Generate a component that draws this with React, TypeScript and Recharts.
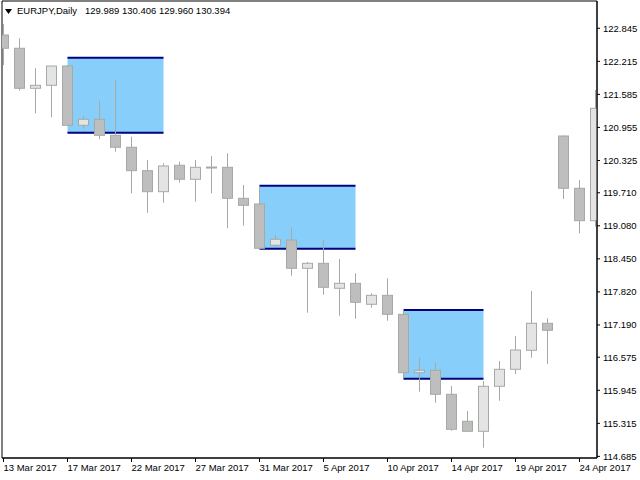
import React from 'react';
import { ComposedChart, Bar, XAxis, YAxis, ReferenceArea } from 'recharts';

// daily bars, Sunday sessions included (MT4 feed)
const dates = [
    '13 Mar', '14 Mar', '15 Mar', '16 Mar', '17 Mar', '19 Mar', '20 Mar', '21 Mar', '22 Mar', '23 Mar',
    '24 Mar', '26 Mar', '27 Mar', '28 Mar', '29 Mar', '30 Mar', '31 Mar', '2 Apr', '3 Apr', '4 Apr',
    '5 Apr', '6 Apr', '7 Apr', '9 Apr', '10 Apr', '11 Apr', '12 Apr', '13 Apr', '14 Apr', '16 Apr',
    '17 Apr', '18 Apr', '19 Apr', '20 Apr', '21 Apr', '23 Apr', '24 Apr', '25 Apr',
];

const opens = [
    122.717, 122.464, 121.701, 121.758, 122.126, 120.996, 121.110, 120.805, 120.577, 120.131,
    119.730, 120.234, 119.967, 120.190, 120.195, 119.604, 119.496, 118.709, 118.810, 118.270,
    118.365, 117.889, 117.984, 117.584, 117.755, 117.393, 116.280, 116.326, 115.868, 115.354,
    115.163, 116.021, 116.345, 116.707, 117.222, 120.792, 119.795, 119.177,
];
const highs = [
    122.930, 122.654, 122.083, 122.126, 122.140, 121.173, 121.465, 121.859, 120.779, 120.335,
    120.272, 120.302, 120.335, 120.411, 120.462, 119.858, 119.826, 118.905, 119.052, 118.390,
    118.810, 118.447, 118.175, 117.794, 118.079, 117.475, 116.566, 116.471, 116.027, 115.550,
    116.122, 116.503, 116.980, 117.837, 117.317, 120.800, 119.953, 121.669,
];
const lows = [
    122.145, 121.656, 121.225, 121.148, 120.990, 120.931, 120.729, 120.493, 119.700, 119.330,
    119.521, 119.902, 119.540, 119.700, 119.033, 119.082, 118.640, 118.670, 118.129, 117.424,
    117.767, 117.367, 117.309, 117.519, 117.271, 116.179, 115.918, 115.708, 115.174, 115.155,
    114.850, 115.746, 116.255, 116.566, 116.446, 119.591, 118.937, 119.063,
];
const closes = [
    122.464, 121.701, 121.758, 122.126, 120.996, 121.110, 120.805, 120.577, 120.131, 119.730,
    120.220, 119.967, 120.195, 120.200, 119.604, 119.471, 118.651, 118.823, 118.270, 118.365,
    117.908, 117.984, 117.622, 117.755, 117.393, 116.280, 116.326, 115.868, 115.201, 115.163,
    116.021, 116.345, 116.713, 117.222, 117.088, 119.795, 119.177, 121.320,
];

const priceTicks = [
    122.845, 122.215, 121.585, 120.955, 120.325, 119.71, 119.08,
    118.45, 117.82, 117.19, 116.575, 115.945, 115.315, 114.685,
];
const dateTicks = [0, 4, 8, 12, 16, 20, 24, 28, 32, 36];

// rectangle objects drawn on the chart
const boxStart = [4, 16, 25];
const boxEnd = [10, 22, 30];
const boxTop = [122.285, 119.845, 117.475];
const boxBottom = [120.855, 118.644, 116.166];

const data = dates.map((d, i) => ({
    i,
    date: d,
    open: opens[i],
    high: highs[i],
    low: lows[i],
    close: closes[i],
}));

const font = "'Liberation Sans', Arial, sans-serif";
const edge = '#a3aba3';
const bearFill = '#bebebe';
const bullFill = '#e4e4e4';

const Candle = (props: any) => {
    const { x, y, width, height, payload } = props;
    const { open, close, high, low } = payload;
    const top = Math.min(y, y + height);
    const h = Math.abs(height);
    const ppu = h / (high - low || 1);
    const cx = x + width / 2;
    const bodyTop = top + (high - Math.max(open, close)) * ppu;
    const bodyBot = top + (high - Math.min(open, close)) * ppu;
    return (
        <g>
            <line x1={cx} x2={cx} y1={top} y2={top + h} stroke={edge} />
            <rect
                x={cx - 5}
                y={bodyTop}
                width={10}
                height={Math.max(bodyBot - bodyTop, 1)}
                fill={close >= open ? bullFill : bearFill}
                stroke={edge}
            />
        </g>
    );
};

const Box = (props: any) => {
    const { x, y, width, height } = props;
    return (
        <g>
            <rect x={x} y={y} width={width} height={height} fill="#87cefa" />
            <line x1={x} x2={x + width} y1={y} y2={y} stroke="#000080" strokeWidth={2} />
            <line x1={x} x2={x + width} y1={y + height} y2={y + height} stroke="#000080" strokeWidth={2} />
        </g>
    );
};

const DateTick = (props: any) => {
    const { x, y, payload } = props;
    return (
        <text x={x} y={y} dy="0.71em" textAnchor="start" fill="#000" fontSize={9.5} fontFamily={font}>
            {dates[payload.value]} 2017
        </text>
    );
};

export default function App() {
    return (
        <div style={{ position: 'absolute', left: 0, top: 0, width: 640, height: 480, background: '#fff' }}>
            <ComposedChart width={640} height={480} data={data} margin={{ top: 1, right: 0, bottom: 0, left: 2 }}>
                <XAxis
                    dataKey="i"
                    type="number"
                    domain={[-0.094, 37.094]}
                    ticks={dateTicks}
                    interval={0}
                    allowDataOverflow
                    height={22}
                    tickSize={4}
                    tickMargin={2}
                    stroke="#000"
                    tick={<DateTick />}
                />
                <YAxis
                    orientation="right"
                    type="number"
                    domain={[114.654, 123.365]}
                    ticks={priceTicks}
                    interval={0}
                    allowDataOverflow
                    width={43}
                    tickSize={3}
                    tickMargin={3}
                    stroke="#000"
                    tick={{ fill: '#000', fontSize: 9.5, fontFamily: font }}
                    tickFormatter={(v: number) => v.toFixed(3)}
                />
                {boxStart.map((s, k) => (
                    <ReferenceArea
                        key={k}
                        x1={s}
                        x2={boxEnd[k]}
                        y1={boxBottom[k]}
                        y2={boxTop[k]}
                        shape={<Box />}
                    />
                ))}
                <Bar
                    dataKey={(d: any) => [d.low, d.high]}
                    shape={<Candle />}
                    barSize={10}
                    isAnimationActive={false}
                />
                <ReferenceArea
                    x1={-0.094}
                    x2={37.094}
                    y1={114.654}
                    y2={123.365}
                    fill="none"
                    stroke="#000"
                    fillOpacity={0}
                />
            </ComposedChart>
            <div
                style={{
                    position: 'absolute',
                    left: 5,
                    top: 5,
                    fontFamily: font,
                    fontSize: 9.5,
                    whiteSpace: 'pre',
                    color: '#000',
                    lineHeight: '12px',
                }}
            >
                <svg width={7} height={5} style={{ marginRight: 5, verticalAlign: 'middle' }}>
                    <polygon points="0,0 7,0 3.5,5" fill="#000" />
                </svg>
                {'EURJPY,Daily   129.989 130.406 129.960 130.394'}
            </div>
        </div>
    );
}
